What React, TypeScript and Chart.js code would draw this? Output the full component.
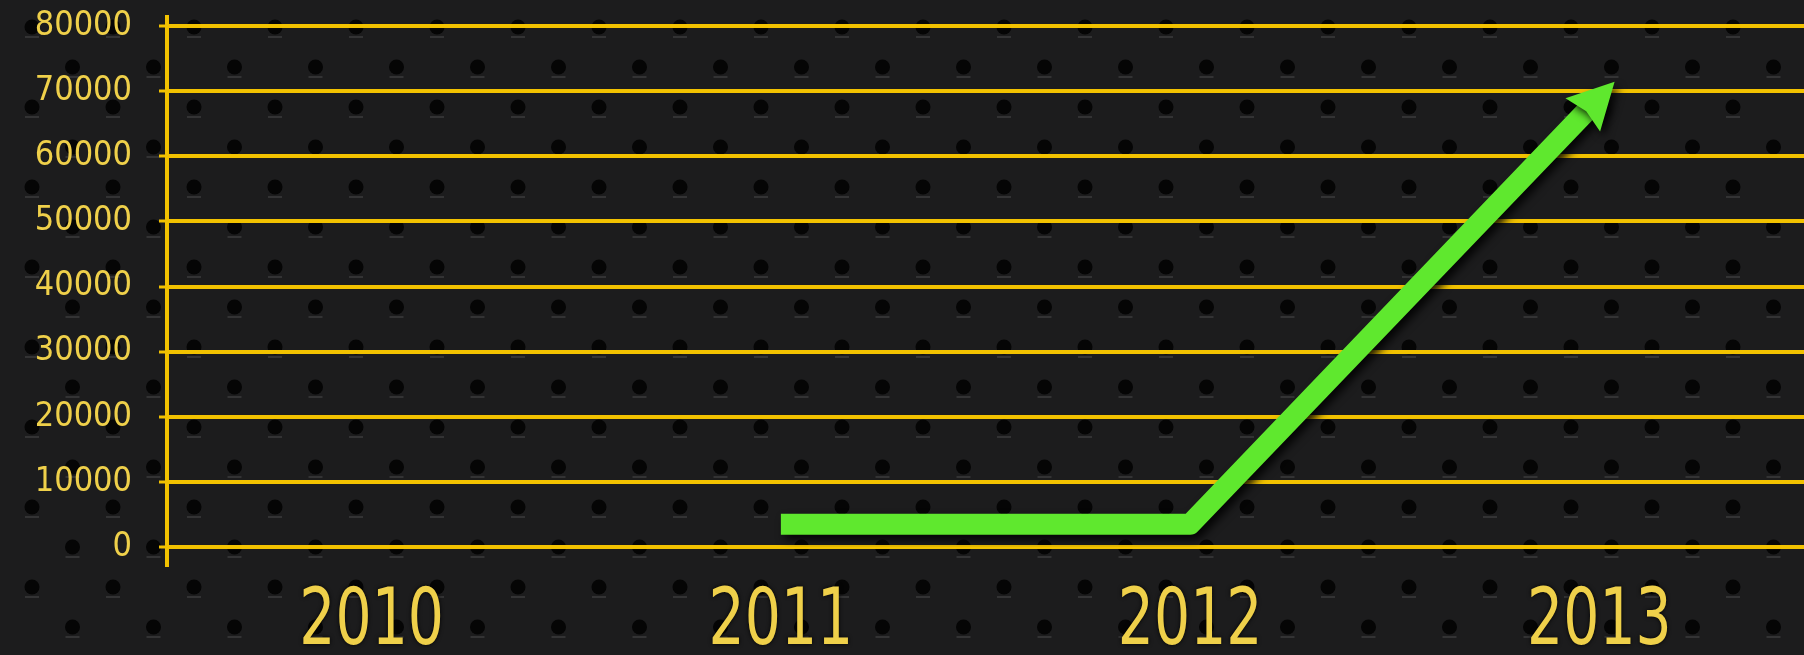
import React, { useEffect, useRef } from "react";
import { Chart, registerables } from "chart.js";

Chart.register(...registerables);

// ---- data ----
const years: string[] = ["2010", "2011", "2012", "2013"];
const values: (number | null)[] = [null, 3500, 3500, 69000];
const yMin = 0;
const yMax = 80000;
const yStep = 10000;

// ---- style ----
const FONT = "'DejaVu Sans Condensed', 'DejaVu Sans', sans-serif";
const GOLD = "#f2c200";
const LABEL = "#efd04a";
const GREEN = "#5fe82e";
const BG = "#1c1c1d";

const backgroundPlugin = {
  id: "perforatedBackground",
  beforeDraw(chart: any) {
    const { ctx, width, height } = chart;
    ctx.save();
    ctx.fillStyle = BG;
    ctx.fillRect(0, 0, width, height);
    for (let k = -2; k <= 15; k++) {
      const y = 107 + 40 * k;
      const off = k % 2 === 0 ? 32 : 72.5;
      for (let x = off - 81; x <= width + 81; x += 81) {
        ctx.strokeStyle = "rgba(120,120,120,0.35)";
        ctx.lineWidth = 1.5;
        ctx.beginPath();
        ctx.moveTo(x - 7, y + 10);
        ctx.lineTo(x + 7, y + 10);
        ctx.stroke();
        ctx.fillStyle = "#050505";
        ctx.beginPath();
        ctx.arc(x, y, 7.5, 0, Math.PI * 2);
        ctx.fill();
      }
    }
    ctx.restore();
  },
};

const axisPlugin = {
  id: "extendedAxis",
  beforeDatasetsDraw(chart: any) {
    const { ctx, chartArea } = chart;
    ctx.save();
    ctx.strokeStyle = GOLD;
    ctx.lineWidth = 4;
    ctx.beginPath();
    ctx.moveTo(chartArea.left, chartArea.top - 11);
    ctx.lineTo(chartArea.left, chartArea.bottom + 20);
    ctx.stroke();
    ctx.restore();
  },
};

// x category labels: drawn at the category scale's pixel positions, horizontally condensed
const xLabelPlugin = {
  id: "condensedXLabels",
  afterDraw(chart: any) {
    const { ctx, chartArea } = chart;
    const xs = chart.scales.x;
    ctx.save();
    ctx.fillStyle = LABEL;
    ctx.font = `78px ${FONT}`;
    ctx.textAlign = "center";
    ctx.textBaseline = "alphabetic";
    ctx.shadowColor = "rgba(0,0,0,0.9)";
    ctx.shadowBlur = 4;
    years.forEach((label, i) => {
      const x = xs.getPixelForValue(i);
      ctx.save();
      ctx.translate(x, chartArea.bottom + 97);
      ctx.scale(0.81, 1);
      ctx.fillText(label, 0, 0);
      ctx.restore();
    });
    ctx.restore();
  },
};

const shadowPlugin = {
  id: "lineShadow",
  beforeDatasetDraw(chart: any) {
    const ctx = chart.ctx;
    ctx.save();
    ctx.shadowColor = "rgba(0,0,0,0.85)";
    ctx.shadowBlur = 8;
    ctx.shadowOffsetX = 4;
    ctx.shadowOffsetY = 5;
  },
  afterDatasetDraw(chart: any) {
    const ctx = chart.ctx;
    ctx.restore();
    const meta = chart.getDatasetMeta(0);
    const pts = meta.data.filter((p: any, i: number) => values[i] !== null);
    if (pts.length < 2) return;
    const a = pts[pts.length - 2];
    const b = pts[pts.length - 1];
    const dx = b.x - a.x;
    const dy = b.y - a.y;
    const len = Math.hypot(dx, dy);
    const ux = dx / len;
    const uy = dy / len;
    const nx = -uy;
    const ny = ux;
    const tipX = b.x + ux * 22;
    const tipY = b.y + uy * 22;
    const baseX = tipX - ux * 46;
    const baseY = tipY - uy * 46;
    const hw = 24;
    ctx.save();
    ctx.shadowColor = "rgba(0,0,0,0.85)";
    ctx.shadowBlur = 8;
    ctx.shadowOffsetX = 4;
    ctx.shadowOffsetY = 5;
    ctx.fillStyle = GREEN;
    ctx.beginPath();
    ctx.moveTo(tipX, tipY);
    ctx.lineTo(baseX + nx * hw, baseY + ny * hw);
    ctx.lineTo(baseX + ux * 5, baseY + uy * 5);
    ctx.lineTo(baseX - nx * hw, baseY - ny * hw);
    ctx.closePath();
    ctx.fill();
    ctx.restore();
  },
};

export default function App() {
  const ref = useRef<HTMLCanvasElement | null>(null);

  useEffect(() => {
    document.body.style.margin = "0";
    const canvas = ref.current;
    if (!canvas) return;
    const chart = new Chart(canvas, {
      type: "line",
      data: {
        labels: years,
        datasets: [
          {
            data: values,
            borderColor: GREEN,
            borderWidth: 21,
            borderCapStyle: "butt",
            borderJoinStyle: "round",
            pointRadius: 0,
            pointHoverRadius: 0,
            tension: 0,
            fill: false,
            spanGaps: false,
          },
        ],
      },
      options: {
        responsive: false,
        animation: false,
        devicePixelRatio: 1,
        events: [],
        layout: { padding: { top: 26, right: -8, bottom: 0, left: 0 } },
        plugins: {
          legend: { display: false },
          tooltip: { enabled: false },
          title: { display: false },
        },
        scales: {
          x: {
            type: "category",
            offset: true,
            grid: { display: false, drawTicks: false },
            border: { display: false },
            ticks: { display: false },
            afterFit(scale: any) {
              scale.height = 108;
              scale.paddingLeft = 0;
              scale.paddingRight = 0;
            },
          },
          y: {
            min: yMin,
            max: yMax,
            grid: {
              color: GOLD,
              lineWidth: 4,
              tickLength: 8,
              tickColor: GOLD,
              tickWidth: 3,
              drawTicks: true,
            },
            border: { display: false },
            ticks: {
              stepSize: yStep,
              color: LABEL,
              padding: 27,
              font: { family: FONT, size: 34, lineHeight: 1 },
              callback: (v: any) => String(v),
            },
            afterFit(scale: any) {
              scale.width = 167;
              scale.paddingTop = 0;
              scale.paddingBottom = 0;
            },
          },
        },
      },
      plugins: [backgroundPlugin, axisPlugin, shadowPlugin, xLabelPlugin],
    });
    return () => chart.destroy();
  }, []);

  return (
    <div style={{ position: "fixed", left: 0, top: 0, width: 1804, height: 655 }}>
      <canvas ref={ref} width={1804} height={655} style={{ width: 1804, height: 655, display: "block" }} />
    </div>
  );
}
